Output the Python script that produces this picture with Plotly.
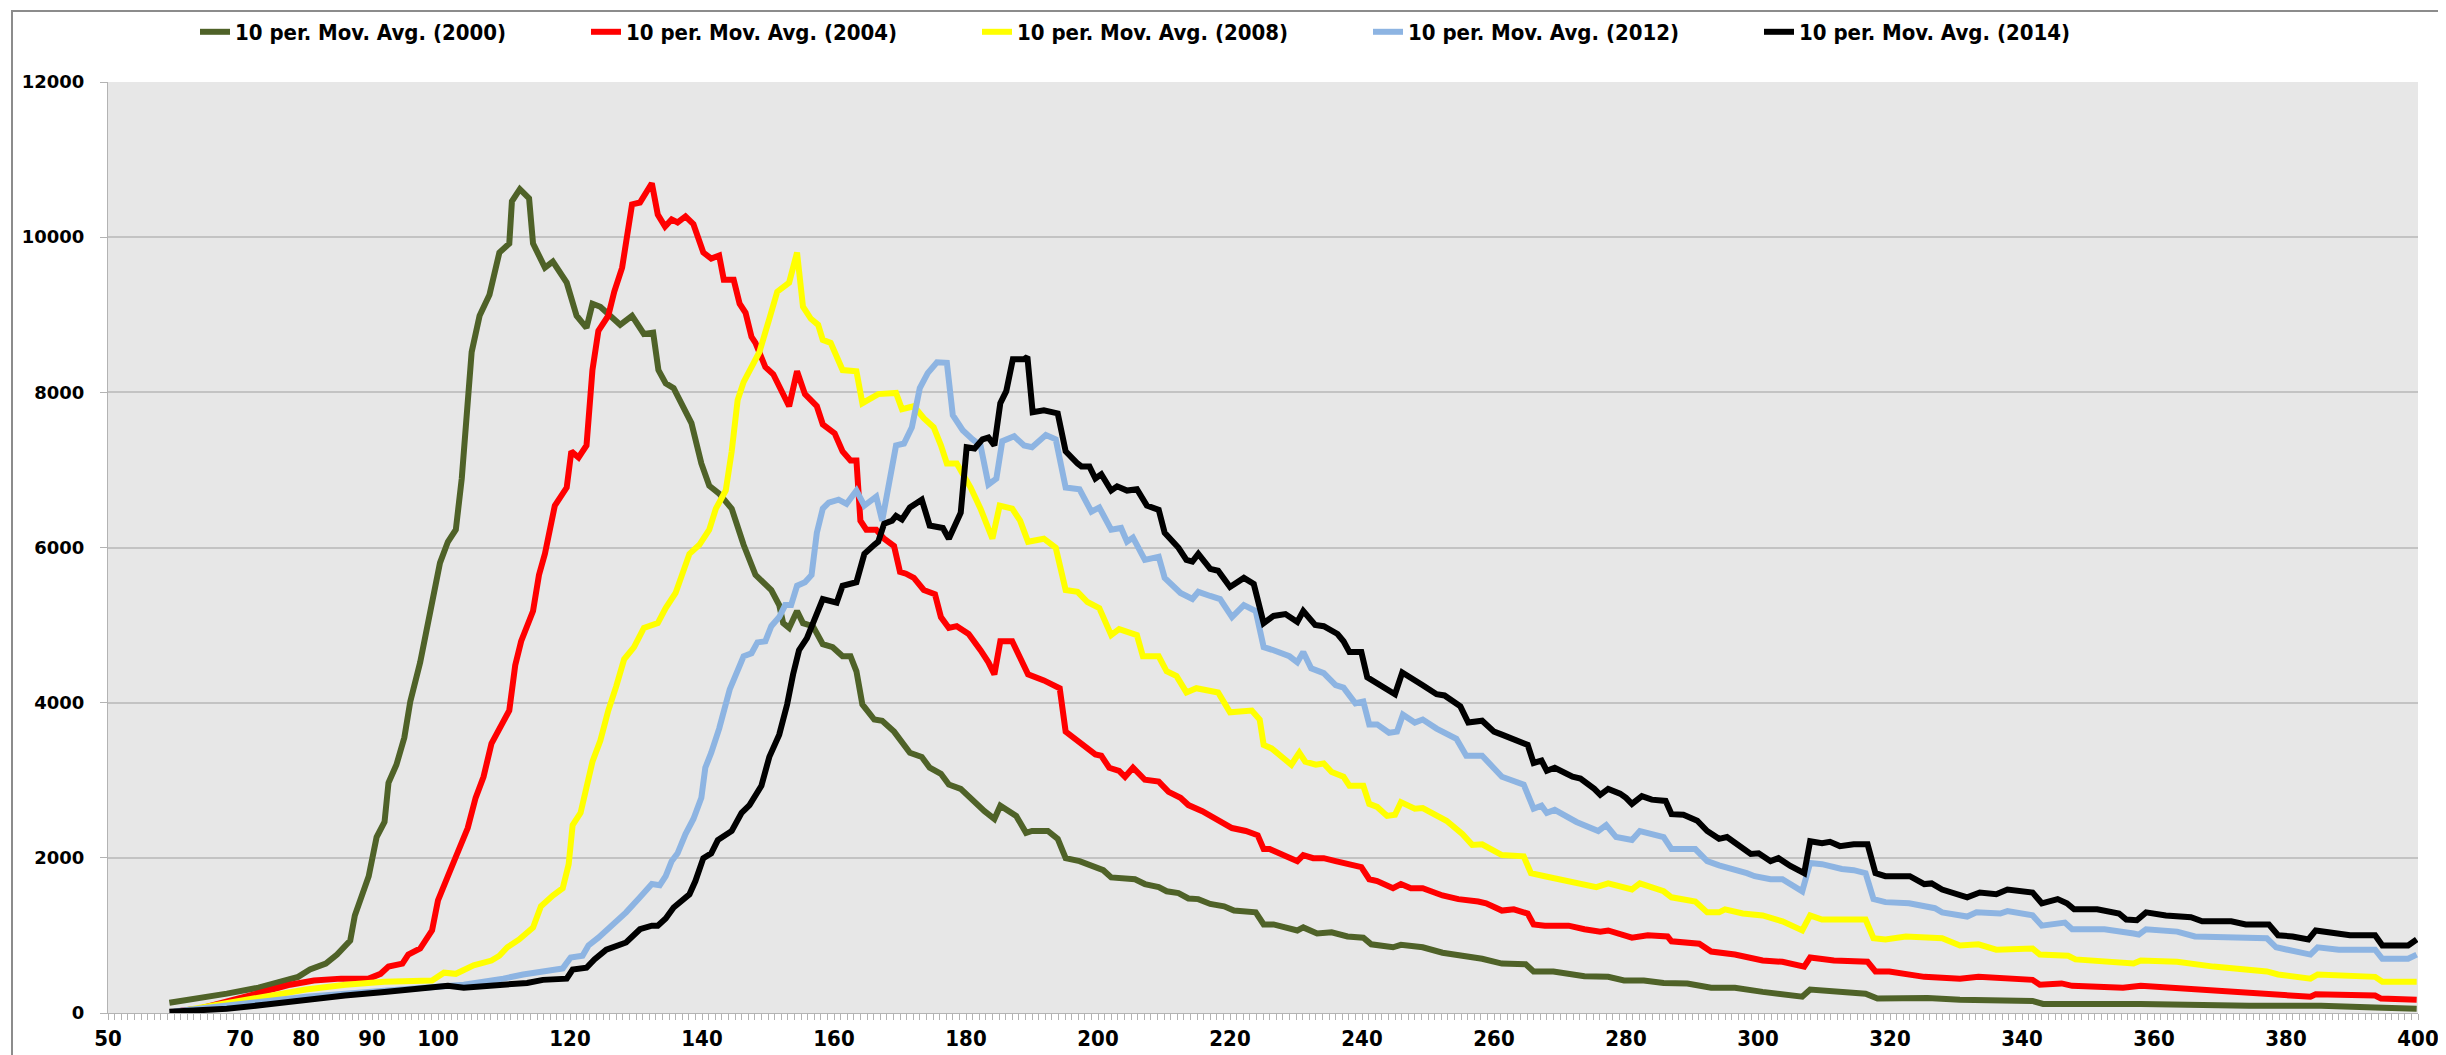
import plotly.graph_objects as go

# (weight, count) pairs
s2000 = [(59.3, 132), (62.6, 171), (65, 210), (68, 250), (72.8, 326), (78.8, 466), (80.6, 560), (83, 637),
         (84.7, 753), (86.7, 932), (87.4, 1258), (89.5, 1763), (90.7, 2268), (91.9, 2462), (92.5, 2967),
         (93.7, 3200), (94.9, 3550), (95.8, 4015), (97.3, 4520), (98.5, 5025), (99.4, 5375), (100.3, 5802),
         (101.5, 6074), (102.7, 6229), (103.6, 6889), (104.5, 7977), (105.1, 8520), (106.3, 8987),
         (107.8, 9258), (109.3, 9802), (110.8, 9918), (111.2, 10462), (112.4, 10618), (113.8, 10501),
         (114.4, 9918), (116.2, 9608), (117.4, 9685), (119.5, 9414), (121, 8987), (122.5, 8831),
         (123.4, 9142), (124.6, 9103), (126.1, 8987), (127.6, 8870), (129.4, 8987), (131.2, 8753),
         (132.6, 8769), (133.4, 8287), (134.5, 8116), (135.7, 8054), (138.4, 7604), (139.9, 7083),
         (141.1, 6796), (142.6, 6695), (144.5, 6501), (146.3, 6035), (148.1, 5647), (150.5, 5452),
         (151.7, 5258), (152.3, 5025), (153.2, 4963), (154.4, 5181), (155.3, 5025), (156.8, 4986),
         (158.3, 4753), (159.8, 4715), (161.3, 4598), (162.5, 4598), (163.4, 4404), (164.3, 3977),
         (166.1, 3783), (167.3, 3767), (169.1, 3627), (171.5, 3355), (173.3, 3301), (174.5, 3161),
         (176.2, 3083), (177.4, 2944), (179.2, 2889), (181, 2734), (182.8, 2602), (184.3, 2501),
         (185.2, 2672), (187.6, 2540), (189.1, 2322), (190, 2346), (192.4, 2346), (193.9, 2245),
         (195.1, 1996), (197.2, 1957), (199.6, 1880), (200.8, 1841), (202, 1748), (205.6, 1724),
         (207.1, 1662), (209.2, 1623), (210.4, 1569), (212.2, 1546), (213.7, 1476), (215.2, 1468),
         (217, 1406), (219.1, 1375), (220.6, 1320), (223.9, 1297), (225.1, 1142), (226.6, 1142),
         (230.2, 1064), (231.1, 1103), (233.2, 1025), (235.4, 1041), (237.8, 986), (240.2, 971),
         (241.4, 885), (244.7, 847), (245.9, 878), (249.2, 847), (252.2, 777), (255.8, 738), (258.2, 699),
         (261.2, 637), (264.8, 629), (266, 536), (269, 536), (273.7, 474), (277.3, 466), (279.7, 419),
         (282.7, 419), (285.7, 388), (289.3, 381), (292.9, 326), (296.5, 326), (300.7, 272), (303.7, 249),
         (306.7, 210), (307.9, 303), (311.5, 272), (316.3, 249), (318.1, 186), (325.7, 194), (330.6, 171),
         (341.6, 155), (343.2, 117), (358, 117), (374.4, 93), (385.3, 93), (393.5, 70), (399.8, 54)]

s2004 = [(61, 30), (63.8, 55), (65.6, 93), (69.8, 186), (74, 272), (77.6, 365), (81.2, 419), (85.3, 443),
         (89.5, 443), (91.3, 505), (92.5, 598), (94.6, 637), (95.5, 753), (97.3, 831), (99.1, 1064),
         (100, 1452), (101.5, 1763), (102.7, 1996), (104.5, 2384), (105.7, 2773), (106.9, 3045),
         (108.1, 3472), (109.9, 3783), (110.8, 3899), (111.7, 4482), (112.6, 4792), (114.4, 5181),
         (115.3, 5647), (116.2, 5918), (117.7, 6540), (119.5, 6773), (120.2, 7239), (121.3, 7161),
         (122.5, 7316), (123.4, 8287), (124.3, 8792), (125.8, 8987), (126.7, 9297), (127.9, 9608),
         (129.4, 10423), (130.6, 10447), (132.4, 10695), (133.3, 10291), (134.4, 10136), (135.4, 10229),
         (136.3, 10190), (137.5, 10268), (138.7, 10167), (140.2, 9802), (141.4, 9724), (142.6, 9763),
         (143.3, 9452), (144.8, 9452), (145.7, 9142), (146.6, 9025), (147.5, 8715), (148.1, 8637),
         (149.6, 8326), (150.8, 8233), (152.3, 7977), (153.2, 7821), (154.4, 8272), (155.6, 7977),
         (157.4, 7821), (158.3, 7588), (160.1, 7472), (161.3, 7239), (162.5, 7122), (163.4, 7122),
         (164, 6346), (164.9, 6229), (166.4, 6229), (167.6, 6113), (169.1, 6019), (170, 5685),
         (170.9, 5662), (172.1, 5608), (173.6, 5452), (175.3, 5398), (176.2, 5103), (177.4, 4963),
         (178.6, 4986), (180.4, 4885), (182.2, 4676), (183.4, 4520), (184.3, 4365), (185.2, 4792),
         (187, 4792), (187.9, 4637), (189.4, 4365), (191.8, 4287), (194.2, 4186), (195.1, 3627),
         (196.6, 3534), (198.1, 3433), (199.6, 3332), (200.5, 3316), (201.7, 3161), (203.2, 3122),
         (204.1, 3045), (205.3, 3161), (207.1, 3006), (209.2, 2982), (210.7, 2851), (212.5, 2773),
         (213.7, 2680), (215.8, 2602), (218.8, 2462), (220.3, 2384), (222.4, 2346), (224.2, 2291),
         (225.1, 2113), (226, 2113), (230.2, 1957), (231.1, 2035), (232.6, 1996), (234.2, 1996),
         (236, 1957), (237.8, 1918), (239.9, 1880), (241.1, 1724), (242.3, 1701), (244.7, 1608),
         (245.9, 1662), (247.4, 1608), (249.2, 1608), (252.2, 1515), (254.6, 1468), (257.6, 1437),
         (258.8, 1414), (261.2, 1320), (263, 1336), (265.1, 1282), (266, 1142), (267.7, 1126),
         (271.3, 1126), (273.7, 1080), (276.1, 1049), (277.3, 1064), (280.9, 971), (283.3, 1002),
         (286.3, 986), (286.9, 924), (291.1, 893), (292.9, 792), (296.5, 753), (300.7, 676), (303.7, 660),
         (307, 598), (307.9, 715), (311.5, 676), (316.6, 660), (317.8, 536), (319.9, 536), (325.2, 466),
         (330.6, 443), (333.4, 466), (341.6, 427), (342.7, 365), (346, 381), (347.6, 350), (355.3, 326),
         (358, 350), (366.2, 303), (377.1, 249), (378.2, 225), (383.7, 210), (384.5, 241), (393.5, 225),
         (394.4, 186), (399.8, 171)]

s2008 = [(62, 40), (68, 132), (74, 225), (80, 303), (86, 365), (91.9, 404), (99.1, 419), (100.9, 520),
         (102.7, 505), (105.4, 614), (108.1, 676), (109.3, 738), (110.5, 847), (112.3, 948), (114.4, 1103),
         (115.6, 1375), (117.4, 1515), (118.9, 1608), (119.8, 1918), (120.4, 2423), (121.6, 2579),
         (123.4, 3239), (124.6, 3511), (125.8, 3899), (127, 4210), (128.2, 4559), (129.7, 4715),
         (131.2, 4963), (133.3, 5025), (134.5, 5219), (136, 5414), (138.1, 5918), (139.6, 6035),
         (141.1, 6229), (142.1, 6501), (143.6, 6734), (144.5, 7239), (145.4, 7899), (146.3, 8132),
         (148.7, 8520), (150.2, 8948), (151.4, 9297), (153.2, 9414), (154.4, 9802), (155.3, 9103),
         (156.5, 8948), (157.6, 8870), (158.3, 8676), (159.5, 8637), (161.3, 8287), (163.4, 8272),
         (164.3, 7860), (166.7, 7977), (169.4, 7992), (170.3, 7783), (172.1, 7821), (173.6, 7666),
         (175.1, 7550), (176.2, 7316), (177.1, 7083), (178.6, 7083), (180.7, 6773), (182.2, 6501),
         (184, 6113), (185.1, 6540), (187, 6501), (188.2, 6346), (189.4, 6074), (191.8, 6113),
         (193.6, 5996), (195.1, 5452), (196.9, 5429), (198.4, 5297), (200.2, 5219), (202, 4870),
         (203.2, 4947), (205.9, 4870), (206.8, 4598), (209.2, 4598), (210.4, 4404), (211.9, 4342),
         (213.4, 4132), (214.9, 4186), (218.2, 4132), (220, 3876), (223.3, 3899), (224.5, 3783),
         (225.1, 3456), (226.3, 3410), (227.8, 3293), (229.3, 3200), (230.5, 3355), (231.4, 3239),
         (233, 3200), (234.2, 3216), (235.4, 3107), (237.2, 3045), (238.1, 2928), (240.2, 2928),
         (241.1, 2695), (242.3, 2656), (243.8, 2540), (245, 2555), (245.9, 2718), (248, 2633),
         (249.2, 2641), (251.6, 2540), (252.8, 2478), (255.2, 2307), (256.7, 2167), (258.2, 2175),
         (261.2, 2035), (264.5, 2019), (265.6, 1802), (267.7, 1763), (272.5, 1685), (275.5, 1623),
         (277.3, 1670), (280.9, 1592), (282.1, 1670), (285.7, 1569), (286.9, 1491), (290.5, 1437),
         (292.3, 1297), (294.1, 1297), (295, 1336), (297.7, 1282), (300.7, 1258), (303.7, 1181),
         (306.7, 1064), (307.9, 1258), (309.7, 1204), (316.3, 1204), (317.5, 963), (319.3, 948),
         (322.4, 986), (327.9, 963), (330.6, 870), (333.4, 885), (336.1, 816), (341.6, 831), (342.7, 753),
         (347, 738), (348.1, 691), (356.9, 637), (358, 676), (363.5, 660), (369, 598), (377.1, 536),
         (378.8, 497), (383.7, 443), (384.8, 497), (393.5, 466), (394.6, 404), (399.8, 404)]

s2012 = [(60, 20), (68, 93), (80, 210), (91.9, 287), (103.9, 365), (109.9, 443), (112.9, 497), (118.9, 575),
         (120.1, 715), (121.9, 738), (122.8, 870), (124.3, 971), (125.5, 1064), (126.7, 1142),
         (128.5, 1297), (130.6, 1491), (132.4, 1662), (133.6, 1647), (134.5, 1763), (135.4, 1957),
         (136.3, 2058), (137.5, 2307), (138.7, 2501), (139.9, 2773), (140.5, 3161), (141.4, 3355),
         (142.6, 3666), (144.2, 4171), (146.3, 4598), (147.5, 4637), (148.4, 4777), (149.6, 4792),
         (150.5, 4986), (151.7, 5103), (152.6, 5258), (153.5, 5258), (154.4, 5507), (155.6, 5553),
         (156.6, 5647), (157.4, 6190), (158.3, 6501), (159.2, 6579), (160.7, 6617), (161.9, 6563),
         (163.4, 6734), (164.6, 6540), (166.4, 6656), (167.3, 6346), (168.5, 6928), (169.4, 7316),
         (170.6, 7340), (171.8, 7550), (173, 8054), (174.2, 8248), (175.6, 8388), (177.1, 8381),
         (178, 7705), (179.5, 7511), (181, 7394), (182.2, 7316), (183.4, 6812), (184.6, 6889),
         (185.5, 7371), (187.3, 7433), (188.8, 7316), (190, 7293), (192.1, 7449), (193.6, 7394),
         (195.1, 6773), (197.2, 6750), (199, 6462), (200.2, 6516), (202, 6229), (203.5, 6252),
         (204.4, 6074), (205.3, 6128), (207.1, 5841), (209.2, 5880), (210.1, 5608), (212.5, 5414),
         (214.3, 5336), (215.2, 5429), (217, 5375), (218.5, 5336), (220.3, 5103), (222.1, 5258),
         (223.9, 5181), (225.1, 4715), (226.6, 4676), (229, 4598), (230.2, 4520), (231.1, 4652),
         (232.3, 4443), (234.2, 4381), (236, 4225), (237.2, 4194), (239, 3992), (240.2, 4015),
         (241.1, 3720), (242.3, 3720), (244.1, 3612), (245.3, 3627), (246.2, 3845), (248, 3744),
         (249.2, 3783), (251.3, 3666), (254.3, 3534), (255.8, 3316), (258.2, 3316), (261.2, 3045),
         (264.5, 2944), (266, 2633), (267.2, 2672), (268, 2579), (269.2, 2618), (272.5, 2462),
         (275.8, 2346), (277, 2423), (278.5, 2268), (280.9, 2229), (282.1, 2346), (285.7, 2268),
         (286.9, 2113), (290.5, 2113), (292.3, 1957), (294.1, 1903), (298.3, 1802), (299.5, 1763),
         (301.9, 1724), (303.7, 1724), (306.7, 1569), (307.9, 1934), (309.7, 1918), (312.7, 1856),
         (314.5, 1841), (316.3, 1802), (317.5, 1468), (319.3, 1429), (322.9, 1414), (325.2, 1375),
         (326.8, 1351), (327.9, 1297), (331.7, 1243), (333.1, 1297), (336.7, 1282), (337.8, 1313),
         (341.6, 1258), (343, 1126), (346.5, 1165), (347.6, 1080), (352.5, 1080), (356.9, 1025),
         (357.7, 1010), (358.8, 1080), (363.5, 1049), (366.2, 986), (377.1, 963), (378.5, 847),
         (383.7, 753), (384.8, 847), (388, 816), (393.5, 816), (394.6, 699), (398.5, 699), (399.8, 753)]

s2014 = [(59.3, 16), (68, 54), (74, 109), (80, 171), (85.9, 225), (91.9, 272), (95.5, 303), (101.5, 350),
         (103.9, 326), (109.9, 365), (113.5, 388), (115.9, 427), (119.5, 443), (120.4, 560), (122.5, 583),
         (123.7, 691), (125.5, 816), (128.5, 909), (130.6, 1080), (132.4, 1126), (133.3, 1126),
         (134.5, 1219), (135.7, 1359), (138.1, 1530), (139, 1701), (140.2, 1996), (141.4, 2058),
         (142.4, 2229), (144.5, 2346), (146, 2579), (147.2, 2680), (149, 2928), (150.2, 3301),
         (151.7, 3588), (152.9, 3977), (153.8, 4365), (154.7, 4676), (155.9, 4831), (157.1, 5064),
         (158.3, 5336), (160.4, 5289), (161.3, 5507), (163.4, 5553), (164.6, 5918), (166.1, 6035),
         (166.7, 6074), (167.6, 6307), (168.8, 6346), (169.4, 6408), (170.3, 6361), (171.5, 6516),
         (173.3, 6617), (174.5, 6283), (176.5, 6252), (177.4, 6113), (179.2, 6447), (180.1, 7293),
         (181.3, 7277), (182.5, 7394), (183.4, 7417), (184.3, 7316), (185.2, 7860), (186.1, 8015),
         (187.1, 8427), (188.8, 8427), (189.3, 8458), (190.1, 7744), (191.8, 7767), (193.9, 7728),
         (195.1, 7239), (196.9, 7083), (197.5, 7045), (198.7, 7045), (199.6, 6889), (200.5, 6944),
         (202, 6734), (202.9, 6788), (204.4, 6734), (205.9, 6750), (207.4, 6540), (209.2, 6485),
         (210.1, 6190), (212.2, 5996), (213.4, 5841), (214.3, 5818), (215.2, 5918), (217, 5724),
         (218.2, 5701), (220, 5491), (222.1, 5608), (223.6, 5530), (225.1, 5025), (226.6, 5118),
         (228.4, 5142), (230.2, 5041), (231.1, 5181), (232.9, 5002), (234.2, 4986), (236.3, 4885),
         (237.2, 4792), (238.1, 4652), (239.9, 4652), (240.8, 4326), (242.3, 4249), (243.8, 4186),
         (245, 4109), (246.1, 4388), (247.4, 4326), (249.2, 4225), (251.3, 4109), (252.5, 4093),
         (254.9, 3953), (256.1, 3744), (258.2, 3767), (260, 3627), (261.2, 3588), (263, 3534),
         (265.1, 3456), (266, 3223), (267.2, 3254), (268, 3122), (269.2, 3161), (271.9, 3045),
         (273.1, 3021), (275.2, 2889), (276.1, 2812), (277.3, 2889), (279.1, 2827), (280, 2773),
         (280.9, 2695), (282.4, 2796), (283.9, 2750), (286, 2734), (286.9, 2563), (288.7, 2555),
         (290.8, 2478), (292.3, 2346), (294.1, 2245), (295.3, 2268), (297.1, 2151), (298.9, 2050),
         (300.1, 2058), (301.9, 1957), (303.1, 1996), (304.9, 1895), (307, 1802), (307.9, 2214),
         (309.7, 2190), (310.9, 2206), (312.4, 2151), (314.5, 2175), (316.6, 2175), (317.8, 1802),
         (319.3, 1763), (323, 1763), (325.2, 1662), (326.3, 1670), (327.9, 1592), (331.7, 1491),
         (333.6, 1553), (336.1, 1530), (337.8, 1592), (341.6, 1553), (343, 1414), (345.4, 1468),
         (346.8, 1414), (347.9, 1336), (351.4, 1336), (354.7, 1282), (355.8, 1204), (357.4, 1196),
         (358.8, 1297), (361.8, 1258), (365.6, 1235), (367.3, 1181), (371.7, 1181), (373.9, 1142),
         (377.4, 1142), (378.8, 1002), (381, 986), (383.4, 948), (384.5, 1064), (387, 1041),
         (389.7, 1002), (393.5, 1002), (394.6, 870), (398.5, 870), (399.8, 948)]

series_names = ["10 per. Mov. Avg. (2000)", "10 per. Mov. Avg. (2004)", "10 per. Mov. Avg. (2008)",
                "10 per. Mov. Avg. (2012)", "10 per. Mov. Avg. (2014)"]
series_data = [s2000, s2004, s2008, s2012, s2014]
colors = ["#4f6228", "#ff0000", "#ffff00", "#8db4e2", "#000000"]

x_ticks = [50, 70, 80, 90, 100, 120, 140, 160, 180, 200, 220, 240, 260, 280, 300, 320, 340, 360, 380, 400]

W, H = 2446, 1055
L, R, T, B = 100, 36, 74, 50
pw, ph = W - L - R, H - T - B


def px(x):
    return (x - L) / pw


def py(y):
    return (H - B - y) / ph


fig = go.Figure()
for name, data, col in zip(series_names, series_data, colors):
    fig.add_trace(go.Scatter(
        x=[p[0] for p in data],
        y=[p[1] for p in data],
        name=name,
        mode="lines",
        line=dict(color=col, width=6),
    ))

fig.update_layout(
    width=W, height=H,
    margin=dict(l=L, r=R, t=T, b=B, autoexpand=False),
    paper_bgcolor="white",
    plot_bgcolor="#e7e7e7",
    showlegend=True,
    legend=dict(
        orientation="h",
        xref="container", yref="container",
        x=187 / W, xanchor="left",
        y=1 - 24 / H, yanchor="middle",
        font=dict(family="Liberation Sans Narrow, DejaVu Sans Condensed, sans-serif",
                  size=22, color="black", weight="bold"),
        entrywidth=346, entrywidthmode="pixels",
        itemwidth=30, tracegroupgap=0,
        bgcolor="rgba(0,0,0,0)",
    ),
    shapes=[dict(type="rect", xref="paper", yref="paper",
                 x0=px(4), x1=px(2441), y0=py(H + 20), y1=py(3),
                 line=dict(color="#8c8c8c", width=2), fillcolor="rgba(0,0,0,0)", layer="below")],
)

fig.update_xaxes(
    range=[50, 400],
    tickvals=x_ticks,
    automargin=False,
    showgrid=False, zeroline=False,
    showline=True, linecolor="#b3b3b3", linewidth=1,
    ticks="outside", ticklen=6, tickcolor="#b3b3b3",
    minor=dict(dtick=1, ticks="outside", ticklen=6, tickcolor="#b3b3b3", showgrid=False),
    tickfont=dict(family="Liberation Sans Narrow, DejaVu Sans Condensed, sans-serif",
                  size=22, color="black", weight="bold"),
)
fig.update_yaxes(
    range=[0, 12000],
    dtick=2000,
    tickformat="d",
    automargin=False,
    showgrid=True, gridcolor="#c3c3c3", gridwidth=1.5,
    zeroline=False,
    showline=True, linecolor="#b3b3b3", linewidth=1,
    ticks="outside", ticklen=7, tickcolor="#b3b3b3",
    ticklabelstandoff=12,
    tickfont=dict(family="DejaVu Sans", size=18, color="black", weight="bold"),
)

fig.write_html("out.html")
